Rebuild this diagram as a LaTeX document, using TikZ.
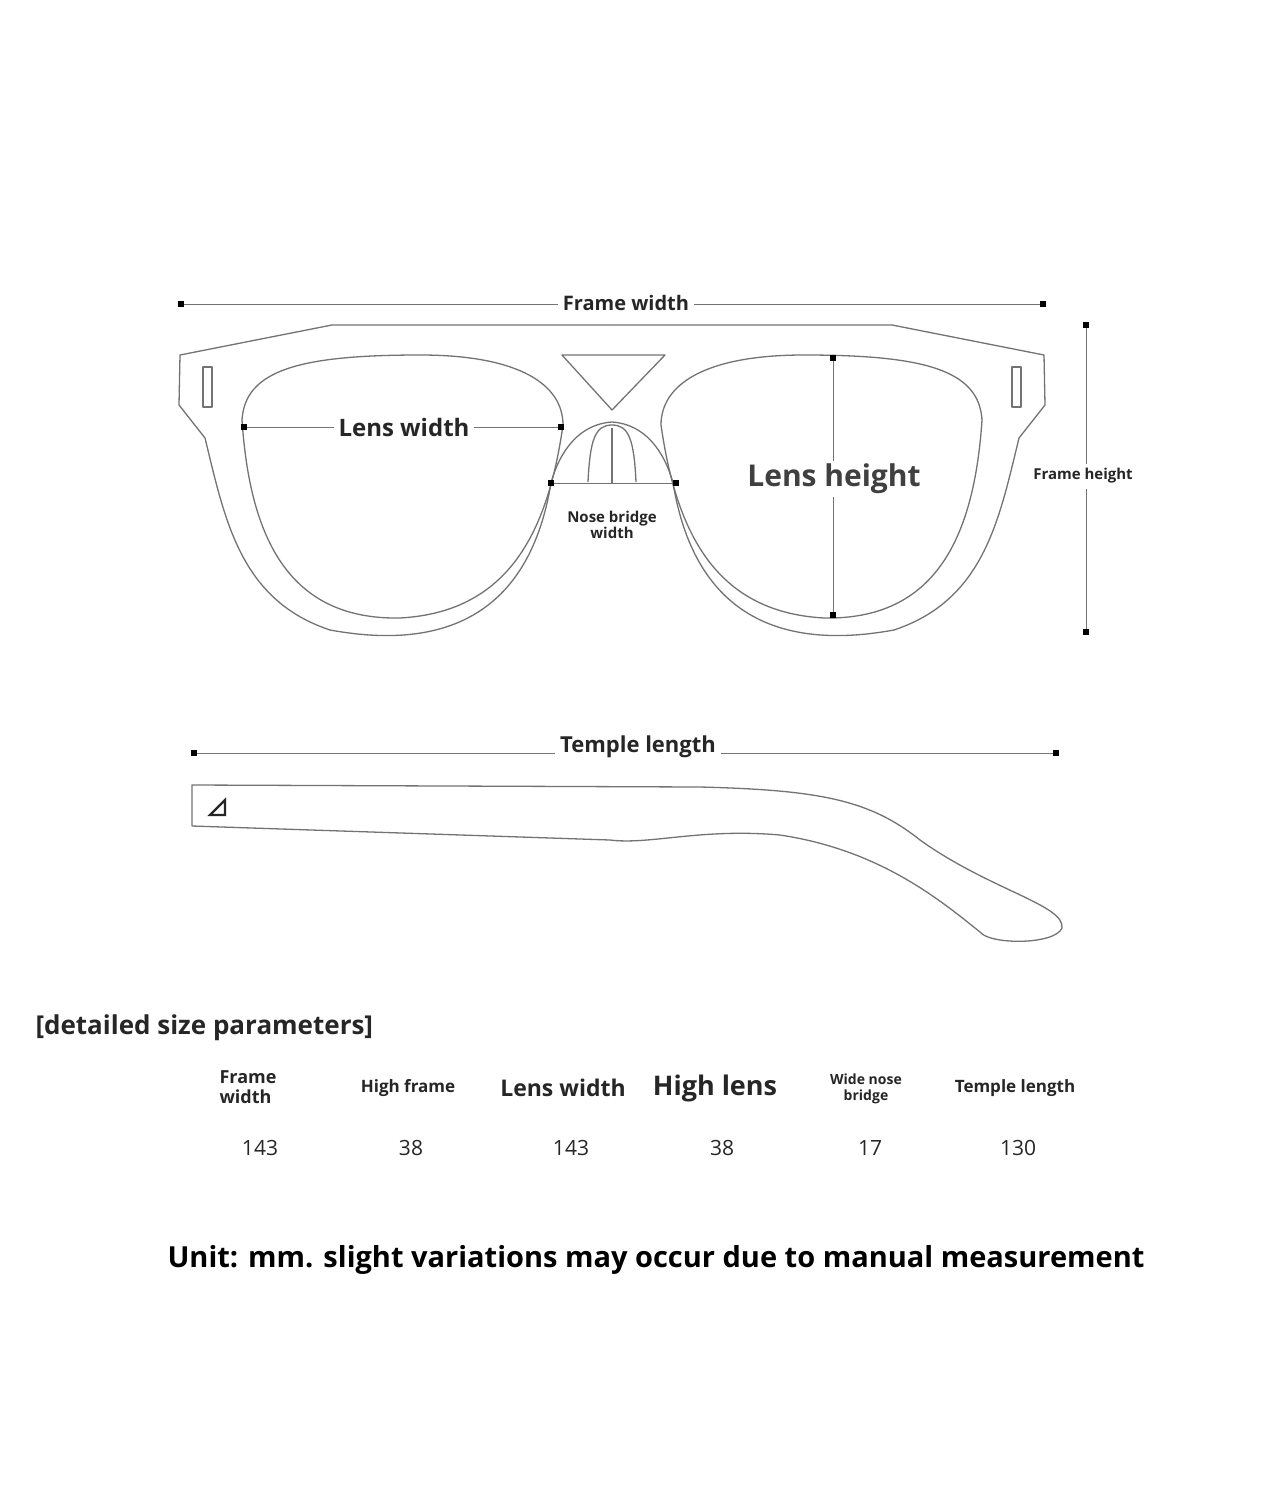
\documentclass[tikz,border=0pt]{standalone}
\usepackage{fontspec}
\setmainfont{Open Sans}
\usetikzlibrary{positioning}
\tikzset{
  outline/.style={draw=black!55, line width=1.3pt, line join=round},
  dimline/.style={draw=black!55, line width=0.9pt},
  dot/.style={fill=black, inner sep=0pt, minimum size=6pt, rectangle},
  dimlabel/.style={fill=white, inner sep=5pt, font=\bfseries, text=black!85},
  hdr/.style={font=\bfseries, text=black!85, align=left},
  val/.style={text=black!85, font=\fontsize{21}{21}\selectfont}
}
\newcommand{\lefthalf}{%
  % frame outline, left half
  \draw[outline] (612,325) -- (332,325) -- (180,355) -- (179,405) -- (205,438)
    .. controls (225,520) and (240,600) .. (330,630)
    .. controls (450,652) and (530,610) .. (551,483)
    .. controls (560,450) and (580,424) .. (612,422);
  % lens
  \draw[outline] (242,420) .. controls (245,370) and (300,355) .. (420,355)
    .. controls (520,355) and (563,385) .. (563,425)
    .. controls (548,530) and (510,612) .. (400,618)
    .. controls (290,620) and (250,540) .. (242,420);
  % nose pad
  \draw[outline] (588,482) .. controls (590,440) and (595,425) .. (612,425);
  % slot
  \draw[outline] (203,367) rectangle (212,407);
}
\begin{document}
\begin{tikzpicture}[x=1pt,y=-1pt]
\useasboundingbox (0,0) rectangle (1280,1496);
\fill[white] (0,0) rectangle (1280,1496);

% front view
\lefthalf
\begin{scope}[xshift=1224pt, xscale=-1]
\lefthalf
\end{scope}
\draw[outline] (562,355) -- (665,355) -- (612,410) -- cycle;
\draw[outline] (612,428) -- (612,483);

% frame width
\node[dot] (fwl) at (181,304) {};
\node[dot] (fwr) at (1043,304) {};
\draw[dimline] (fwl) -- (fwr);
\node[dimlabel, font=\fontsize{20}{20}\selectfont\bfseries] (fw) at (626,303) {Frame width};

% frame height
\node[dot] (fht) at (1086,325) {};
\node[dot] (fhb) at (1086,632) {};
\draw[dimline] (fht) -- (fhb);
\node[dimlabel, font=\fontsize{15}{15}\selectfont\bfseries] (fh) at (1083,476) {Frame height};

% lens width
\node[dot] (lwl) at (244,427) {};
\node[dot] (lwr) at (561,427) {};
\draw[dimline] (lwl) -- (lwr);
\node[dimlabel, font=\fontsize{24}{24}\selectfont\bfseries] (lw) at (404,427) {Lens width};

% lens height
\node[dot] (lht) at (833,358) {};
\node[dot] (lhb) at (833,615) {};
\draw[dimline] (lht) -- (lhb);
\node[dimlabel, inner sep=3pt, font=\fontsize{30}{30}\selectfont\bfseries, text=black!75] (lh) at (834,479) {Lens height};

% nose bridge
\node[dot] (nbl) at (551,483) {};
\node[dot] (nbr) at (676,483) {};
\draw[dimline] (nbl) -- (nbr);
\node[hdr, align=center, font=\fontsize{15}{16}\selectfont\bfseries] (nb) at (612,525) {Nose bridge\\width};

% temple length
\node[dot] (tll) at (194,753) {};
\node[dot] (tlr) at (1056,753) {};
\draw[dimline] (tll) -- (tlr);
\node[dimlabel, font=\fontsize{22}{22}\selectfont\bfseries] (tl) at (638,747) {Temple length};

% temple side view
\draw[outline] (192,785) -- (700,787) .. controls (820,790) and (870,800) .. (920,840)
  .. controls (990,890) and (1065,905) .. (1062,928)
  .. controls (1055,945) and (990,945) .. (980,932)
  .. controls (940,900) and (880,850) .. (780,835)
  .. controls (700,828) and (650,845) .. (610,840)
  -- (192,826) -- cycle;
\draw[line width=2.2pt, black!85] (225,800) -- (225,815) -- (210,815) -- cycle;

% table
\node[hdr, anchor=west, font=\fontsize{26}{26}\selectfont\bfseries] (title) at (32,1028) {[detailed size parameters]};
\node[hdr, font=\fontsize{18}{20}\selectfont\bfseries] (h1) at (248,1087) {Frame\\width};
\node[hdr, font=\fontsize{17}{17}\selectfont\bfseries] (h2) at (408,1088) {High frame};
\node[hdr, font=\fontsize{23}{23}\selectfont\bfseries] (h3) at (563,1088) {Lens width};
\node[hdr, font=\fontsize{27}{27}\selectfont\bfseries] (h4) at (715,1088) {High lens};
\node[hdr, align=center, font=\fontsize{14}{16}\selectfont\bfseries] (h5) at (866,1089) {Wide nose\\bridge};
\node[hdr, font=\fontsize{17}{17}\selectfont\bfseries] (h6) at (1015,1088) {Temple length};
\node[val] (v1) at (260,1148) {143};
\node[val] (v2) at (411,1148) {38};
\node[val] (v3) at (571,1148) {143};
\node[val] (v4) at (722,1148) {38};
\node[val] (v5) at (870,1148) {17};
\node[val] (v6) at (1018,1148) {130};

\node[hdr, font=\fontsize{29}{29}\selectfont\bfseries, text=black] (unit) at (656,1260) {Unit: mm. slight variations may occur due to manual measurement};
\end{tikzpicture}
\end{document}
